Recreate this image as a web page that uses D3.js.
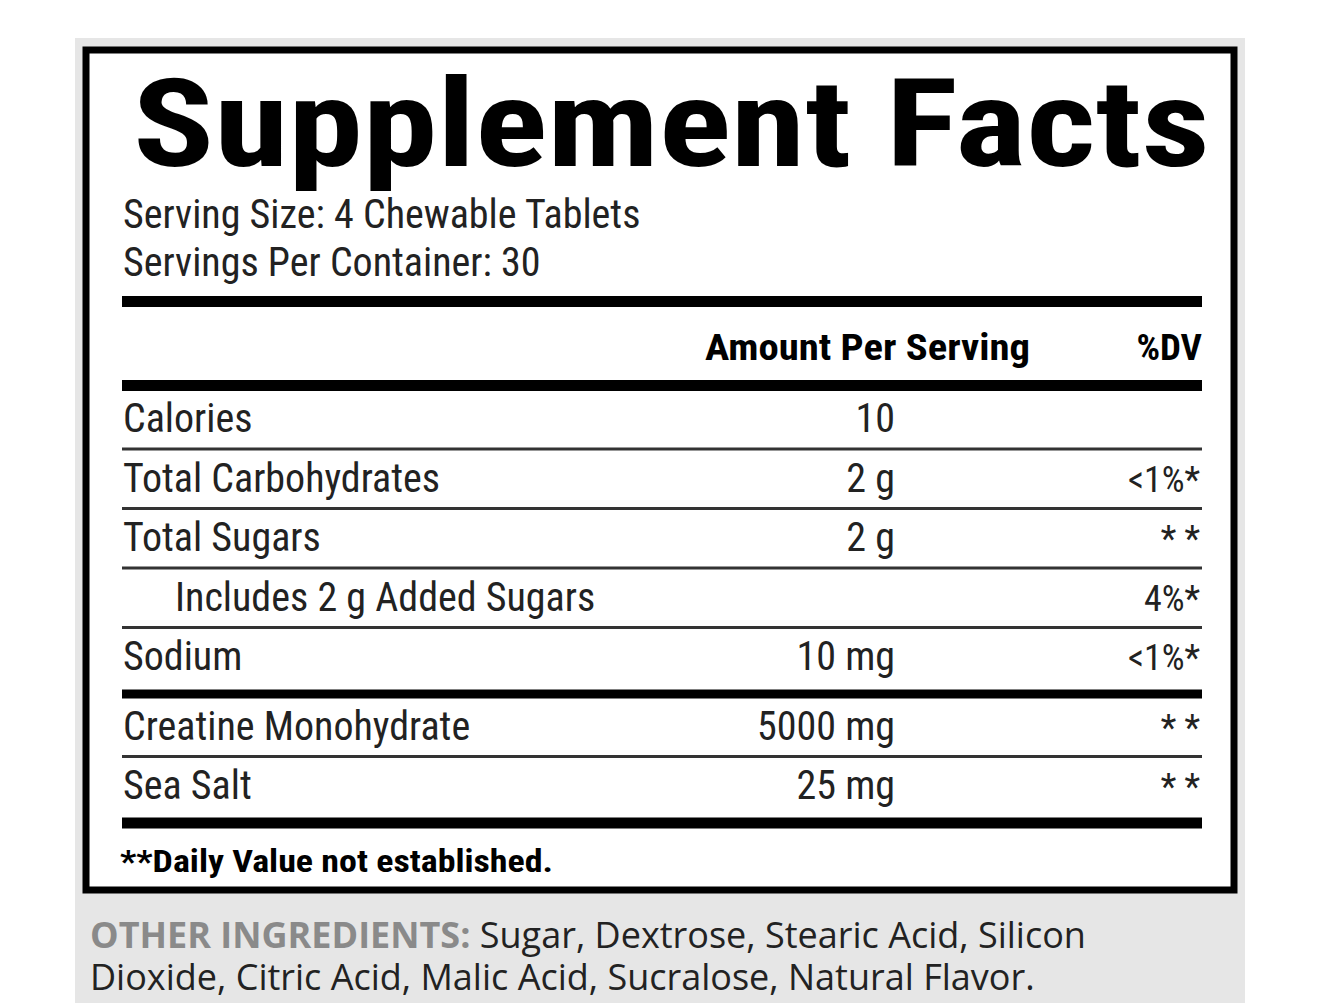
<!DOCTYPE html>
<html><head><meta charset="utf-8">
<script src="https://cdn.jsdelivr.net/npm/d3@7"></script>
<style>body{margin:0;background:#fff}</style>
</head><body>
<svg id="label"></svg>
<script>
const nutrients = ["Calories","Total Carbohydrates","Total Sugars","Includes 2 g Added Sugars","Sodium","Creatine Monohydrate","Sea Salt"];
const amounts = ["10","2 g","2 g","","10 mg","5000 mg","25 mg"];
const dvs = ["","<1%*","* *","4%*","<1%*","* *","* *"];
const indents = [0,0,0,1,0,0,0];
const rules = ["thin","thin","thin","thin","thick","thin","end"];

const svg = d3.select("#label").attr("width",1320).attr("height",1003);
const narrow = "'Liberation Sans Narrow','Roboto Condensed','Liberation Sans',Arial,sans-serif";

// gray background
svg.append("rect").attr("x",75).attr("y",38).attr("width",1170).attr("height",965).attr("fill","#e6e6e6");
svg.append("rect").attr("x",86).attr("y",50).attr("width",1148).attr("height",840).attr("fill","#fff")
  .attr("stroke","#000").attr("stroke-width",7);

svg.append("text").attr("x",133).attr("y",166).attr("textLength",1077).attr("lengthAdjust","spacingAndGlyphs")
  .attr("font-family",narrow).attr("font-weight","bold").attr("font-size",122).text("Supplement Facts");

svg.append("text").attr("x",123).attr("y",228).attr("font-family",narrow).attr("font-size",40).attr("fill","#222").text("Serving Size: 4 Chewable Tablets");
svg.append("text").attr("x",123).attr("y",276).attr("font-family",narrow).attr("font-size",40).attr("fill","#222").text("Servings Per Container: 30");

const x0 = 122, x1 = 1202;
svg.append("rect").attr("x",x0).attr("y",296).attr("width",x1-x0).attr("height",11);
svg.append("text").attr("x",705).attr("y",360).attr("textLength",325).attr("lengthAdjust","spacingAndGlyphs").attr("font-family",narrow).attr("font-weight","bold").attr("font-size",37).text("Amount Per Serving");
svg.append("text").attr("x",x1).attr("y",360).attr("text-anchor","end").attr("font-family",narrow).attr("font-weight","bold").attr("font-size",37).text("%DV");
svg.append("rect").attr("x",x0).attr("y",380).attr("width",x1-x0).attr("height",11);

const rowH = 59.5;
const y = i => 390 + i*rowH + (i > 4 ? 10 : 0);

const rows = svg.selectAll("g.row").data(nutrients).join("g").attr("class","row");
rows.append("text").attr("x",(d,i)=>123 + indents[i]*52).attr("y",(d,i)=>y(i)+42)
  .attr("font-family",narrow).attr("font-size",40).attr("fill","#222").text(d=>d);
rows.append("text").attr("x",895).attr("y",(d,i)=>y(i)+42).attr("text-anchor","end")
  .attr("font-family",narrow).attr("font-size",40).attr("fill","#222").text((d,i)=>amounts[i]);
rows.append("text").attr("x",1200).attr("y",(d,i)=>y(i)+42).attr("text-anchor","end")
  .attr("font-family",narrow).attr("font-size",36).attr("fill","#222").text((d,i)=>dvs[i]);
rows.append("rect").attr("x",x0).attr("width",x1-x0)
  .attr("y",(d,i)=>y(i)+rowH-(rules[i]==="thin"?2:rules[i]==="thick"?-2:-1))
  .attr("height",(d,i)=>rules[i]==="thin"?3:rules[i]==="thick"?9:11)
  .attr("fill",(d,i)=>rules[i]==="thin"?"#333":"#000");

svg.append("text").attr("x",120).attr("y",872).attr("textLength",433).attr("lengthAdjust","spacingAndGlyphs").attr("font-family",narrow).attr("font-weight","bold").attr("font-size",31).text("**Daily Value not established.");

const oi = svg.append("text").attr("x",90).attr("y",948).attr("font-family","'Open Sans',Lato,sans-serif").attr("font-size",36).attr("fill","#222");
oi.append("tspan").attr("font-weight","bold").attr("fill","#8a8a8a").text("OTHER INGREDIENTS: ");
oi.append("tspan").text("Sugar, Dextrose, Stearic Acid, Silicon");
svg.append("text").attr("x",90).attr("y",990).attr("font-family","'Open Sans',Lato,sans-serif").attr("font-size",36).attr("fill","#222")
  .text("Dioxide, Citric Acid, Malic Acid, Sucralose, Natural Flavor.");
</script>
</body></html>
